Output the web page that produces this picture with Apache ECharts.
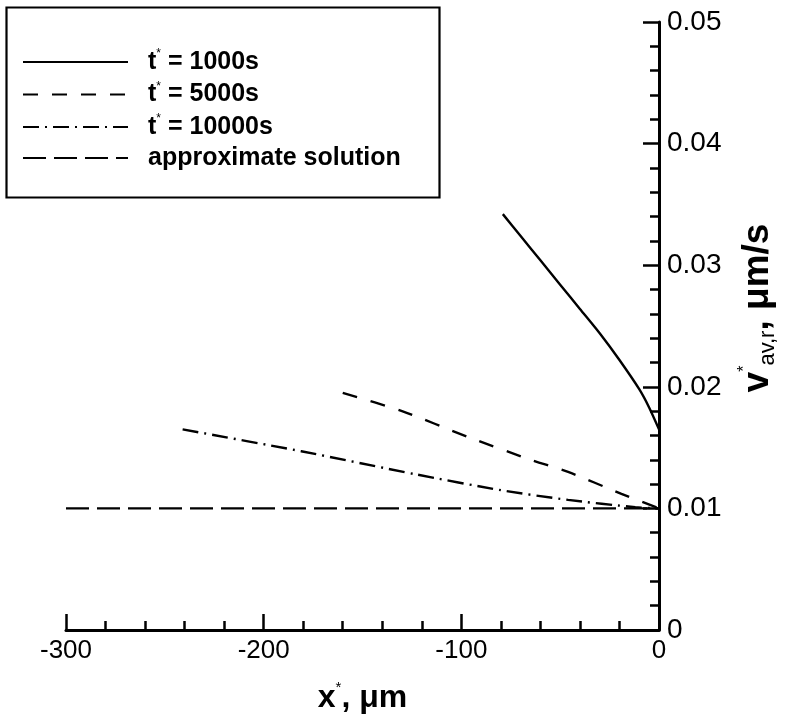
<!DOCTYPE html>
<html>
<head>
<meta charset="utf-8">
<script src="https://cdn.jsdelivr.net/npm/echarts@6/dist/echarts.min.js"></script>
<style>
  html, body { margin: 0; padding: 0; background: #fff; }
  #chart { width: 790px; height: 721px; }
</style>
</head>
<body>
<div id="chart"></div>
<script>
// x*, um  ->  v*_av,r, um/s
const seriesNames = ["t* = 1000s", "t* = 5000s", "t* = 10000s", "approximate solution"];

const t1000X = [-79, -70, -60, -50, -40, -30, -20, -10, -5, 0];
const t1000Y = [0.0342, 0.0324, 0.0304, 0.0284, 0.0264, 0.0244, 0.0222, 0.0198, 0.0183, 0.0165];

const t5000X = [-160, -130, -97, -65, -46, -19, 0];
const t5000Y = [0.0195, 0.0180, 0.0159, 0.0140, 0.0130, 0.0112, 0.0100];

const t10000X = [-241, -181, -123, -80, -46, -12, 0];
const t10000Y = [0.0165, 0.0147, 0.0128, 0.0115, 0.0107, 0.0101, 0.0100];

const approxX = [-300, 0];
const approxY = [0.01, 0.01];

const FONT = "Liberation Sans";
const chart = echarts.init(document.getElementById("chart"));

const pairs = (xs, ys) => xs.map((x, i) => [x, ys[i]]);

// 线型：实线、短虚线、点划线、长虚线
const dashes = ["solid", [15, 14], [16, 6, 2, 6], [23, 8]];
const lines = [
  pairs(t1000X, t1000Y),
  pairs(t5000X, t5000Y),
  pairs(t10000X, t10000Y),
  pairs(approxX, approxY),
];

const series = lines.map((d, i) => ({
  name: seriesNames[i],
  type: "line",
  data: d,
  symbol: "none",
  smooth: i === 3 ? false : 0.25,
  lineStyle: { color: "#000", width: 2.4, type: dashes[i] },
  z: 3,
}));

const axisTickStyle = { color: "#000", width: 2.5 };

const option = {
  backgroundColor: "#fff",
  animation: false,
  textStyle: { fontFamily: FONT, color: "#000" },
  grid: { left: 66, right: 131, top: 22, bottom: 91 },
  legend: {
    orient: "vertical",
    left: 17,
    top: 43,
    itemWidth: 105,
    itemHeight: 26,
    itemGap: 6,
    itemStyle: { opacity: 0 },
    data: seriesNames,
    formatter: (name) => {
      if (name.startsWith("t*")) return "{b|t}{sup|*}{b|" + name.slice(2) + "}";
      return "{b|" + name + "}";
    },
    textStyle: {
      padding: [0, 0, 0, 15],
      rich: {
        b: { fontFamily: FONT, fontWeight: "bold", fontSize: 25, color: "#000", lineHeight: 28 },
        sup: { fontFamily: FONT, fontSize: 12, color: "#000", verticalAlign: "top", lineHeight: 28 },
      },
    },
  },
  graphic: [
    {
      type: "rect",
      left: 4,
      top: 5,
      shape: { width: 433, height: 190 },
      style: { fill: "none", stroke: "#000", lineWidth: 2.2 },
      z: 10,
    },
  ],
  xAxis: {
    type: "value",
    min: -300,
    max: 0,
    interval: 100,
    position: "bottom",
    name: "{b|x}{sup|*}{b|, μm}",
    nameLocation: "middle",
    nameGap: 50,
    nameTextStyle: {
      rich: {
        b: { fontFamily: FONT, fontWeight: "bold", fontSize: 32, color: "#000", lineHeight: 36 },
        sup: { fontFamily: FONT, fontSize: 15, color: "#000", verticalAlign: "top", lineHeight: 36 },
      },
    },
    axisLine: { onZero: false, lineStyle: { color: "#000", width: 3 } },
    axisTick: { inside: true, length: 16, lineStyle: axisTickStyle },
    minorTick: { show: true, splitNumber: 5, length: 9, lineStyle: axisTickStyle },
    splitLine: { show: false },
    axisLabel: { color: "#000", fontSize: 26, fontFamily: FONT, margin: 8 },
  },
  yAxis: {
    type: "value",
    min: 0,
    max: 0.05,
    interval: 0.01,
    position: "right",
    name: "{b|v}{sup|*}{sub|av,r}{b|, μm/s}",
    nameLocation: "middle",
    nameRotate: 90,
    nameGap: 78,
    nameTextStyle: {
      padding: [0, 0, 0, 36],
      rich: {
        b: { fontFamily: FONT, fontWeight: "bold", fontSize: 37, color: "#000", lineHeight: 42 },
        sup: { fontFamily: FONT, fontSize: 16, color: "#000", verticalAlign: "top", lineHeight: 42 },
        sub: { fontFamily: FONT, fontSize: 22, color: "#000", verticalAlign: "bottom", lineHeight: 42 },
      },
    },
    axisLine: { show: true, lineStyle: { color: "#000", width: 3 } },
    axisTick: { inside: true, length: 16, lineStyle: axisTickStyle },
    minorTick: { show: true, splitNumber: 5, length: 9, lineStyle: axisTickStyle },
    splitLine: { show: false },
    axisLabel: {
      color: "#000",
      fontSize: 28,
      fontFamily: FONT,
      margin: 8,
      formatter: (v) => (v === 0 ? "0" : v.toFixed(2)),
    },
  },
  series: series,
};

chart.setOption(option);
</script>
</body>
</html>
